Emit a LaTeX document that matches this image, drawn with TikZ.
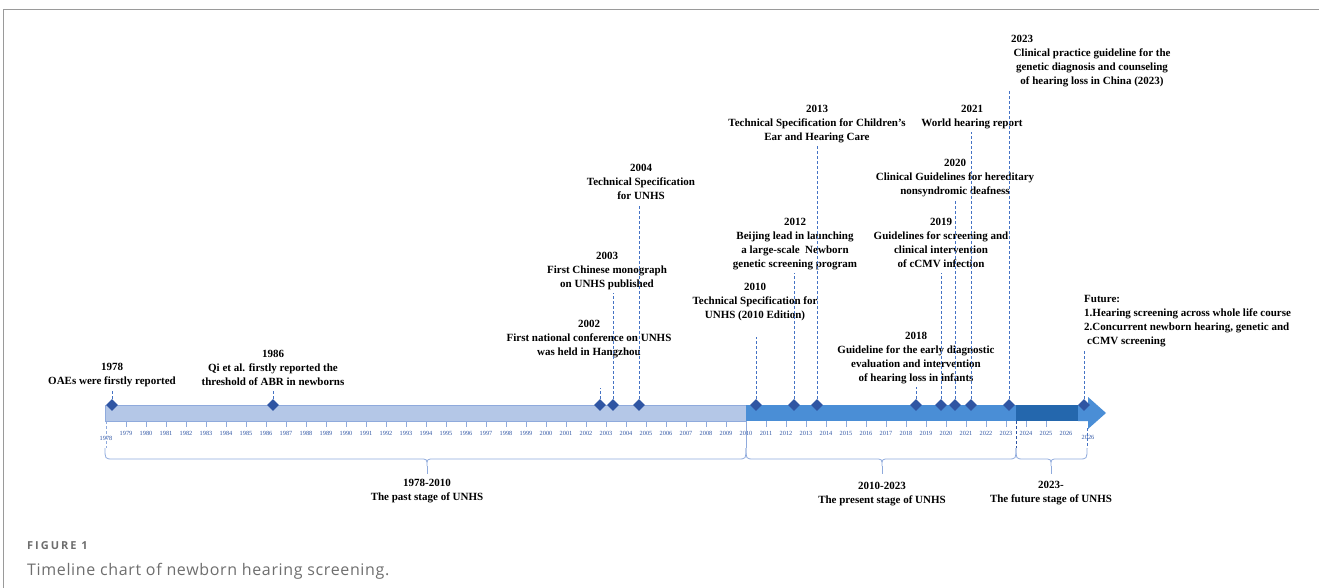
\documentclass[tikz,border=0pt]{standalone}
\usepackage{fontspec}
\setmainfont{Liberation Serif}
\newfontfamily\legende{Open Sans}
\usetikzlibrary{positioning, shapes.geometric}
\definecolor{passe}{HTML}{B4C7E7}
\definecolor{passebord}{HTML}{8FAADC}
\definecolor{present}{HTML}{4A8ED6}
\definecolor{futur}{HTML}{2467AD}
\definecolor{losange}{HTML}{2F55A3}
\definecolor{tiret}{HTML}{4472C4}
\definecolor{gris}{HTML}{6E6E6E}
\tikzset{
    %Define style for the diamonds
    jalon/.style={
           diamond,
           fill=losange,
           inner sep=0pt,
           minimum size=12pt},
    %Define style for event texts
    texte/.style={
           font=\fontsize{11}{14}\selectfont\bfseries,
           align=center,
           inner sep=1pt,
           anchor=south,
           execute at end node=\strut},
    % Define dashed line style
    tige/.style={
           draw=tiret,
           line width=0.6pt,
           dash pattern=on 3pt off 2pt},
    % years under the bar
    annee/.style={
           font=\fontsize{6.3}{7}\selectfont,
           text=losange,
           inner sep=0pt},
    accolade/.style={draw=passebord, line width=0.8pt},
    etape/.style={
           font=\fontsize{11}{14}\selectfont\bfseries,
           align=center,
           inner sep=0pt}
}

\begin{document}
\begin{tikzpicture}[x=1pt, y=-1pt]
	\useasboundingbox (0,0) rectangle (1319,588);
	%
	% cadre
	%
	\draw[gris!70, line width=1pt] (1319,10) -- (3,10) -- (3,588);
	%
	% barre
	%
	\filldraw[fill=passe, draw=passebord, line width=0.6pt] (105,405) rectangle (746,421);
	\fill[present] (746,405) rectangle (1016,421);
	\fill[futur] (1016,405) rectangle (1078,421);
	\fill[present] (1078,405) -- (1088,405) -- (1088,397) -- (1106,413) -- (1088,429) -- (1088,421) -- (1078,421) -- cycle;
	\foreach \i in {1,...,47}
		\draw[passebord, line width=0.5pt] (106+20*\i,421) -- ++(0,6);
	\foreach \yr [count=\i] in {1979,...,2026}
		\node[annee] at (106+20*\i,433) {\yr};
	\node[annee] (a1978) at (106,438) {1978};
	\node[annee] (a2026) at (1088,437) {2026};
	\draw[tige, draw=passebord] (106,421) -- (106,448);
	\draw[passebord, line width=0.6pt] (746,421) -- (746,448);
	\draw[tige, draw=losange, line width=0.8pt] (1016,421) -- (1016,448);
	\draw[tige] (1087,428) -- (1087,448);
	%
	% accolades
	%
	\foreach \a/\m/\b/\n in {105/427/746/passe, 746/882/1016/present, 1016/1051/1087/futur}{
		\draw[accolade] (\a,448) .. controls (\a,459) .. (\a+8,459) -- (\m-7,459) .. controls (\m,459) .. (\m,466)
			.. controls (\m,459) .. (\m+7,459) -- (\b-8,459) .. controls (\b,459) .. (\b,448);
		\draw[accolade] (\m,466) -- (\m,474) coordinate (pointe\n);
	}
	\node[etape, below=5pt of pointepasse] (lpasse) {1978-2010\\The past stage of UNHS};
	\node[etape, below=8pt of pointepresent] (lpresent) {2010-2023\\The present stage of UNHS};
	\node[etape, below=7pt of pointefutur] (lfutur) {2023-\\The future stage of UNHS};
	%
	% noeuds
	%
	\foreach \n/\x in {1978/112, 1986/273, 2002/600, 2003/613, 2004/639, 2010/756, 2012/794,
		2013/817, 2018/916, 2019/941, 2020/955, 2021/971, 2023/1009, fut/1084}
		\node[jalon] (d\n) at (\x,405) {};
	\node[texte] (t1978) at (112,390) {1978\\OAEs were firstly reported};
	\node[texte] (t1986) at (273,391) {1986\\Qi et al. firstly reported the\\threshold of ABR in newborns};
	\node[texte] (t2002) at (589,361) {2002\\First national conference on UNHS\\was held in Hangzhou};
	\node[texte] (t2003) at (607,293) {2003\\First Chinese monograph\\on UNHS published};
	\node[texte] (t2004) at (641,205) {2004\\Technical Specification\\for UNHS};
	\node[texte] (t2010) at (755,324) {2010\\Technical Specification for\\UNHS (2010 Edition)};
	\node[texte] (t2012) at (795,273) {2012\\Beijing lead in launching\\a large-scale\ \ Newborn\\genetic screening program};
	\node[texte] (t2013) at (817,146) {2013\\Technical Specification for Children's\\Ear and Hearing Care};
	\node[texte] (t2018) at (916,387) {2018\\Guideline for the early diagnostic\\evaluation and intervention\\of hearing loss in infants};
	\node[texte] (t2019) at (941,273) {2019\\Guidelines for screening and\\clinical intervention\\of cCMV infection};
	\node[texte] (t2020) at (955,200) {2020\\Clinical Guidelines for hereditary\\nonsyndromic deafness};
	\node[texte] (t2021) at (972,132) {2021\\World hearing report};
	\node[texte] (t2023) at (1092,90) {Clinical practice guideline for the\\genetic diagnosis and counseling\\of hearing loss in China (2023)};
	\node[texte, anchor=base west] (y2023) at (1010,42.6) {2023};
	\node[texte, anchor=south west, align=left] (tfut) at (1083,350) {Future:\\1.Hearing screening across whole life course\\2.Concurrent newborn hearing, genetic and\\\hspace{3pt}cCMV screening};
	%
	% Liens
	%
	\foreach \n in {1978,1986,2003,2004,2012,2013,2018,2019,2020,2021,2023}
		\draw[tige] (d\n.north) -- (d\n |- t\n.south);
	\coordinate (h2002) at (600,388);
	\coordinate (h2010) at (756,337);
	\draw[tige] (d2002.north) -- (h2002);
	\draw[tige] (d2010.north) -- (h2010);
	\draw[tige] (dfut.north) -- (dfut |- tfut.south);
	%
	% legende
	%
	\node[anchor=base west, inner sep=0pt, font=\legende\bfseries\fontsize{11}{13}\selectfont\addfontfeature{LetterSpace=18}, text=gris] (fig) at (27,549) {FIGURE 1};
	\node[anchor=base west, inner sep=0pt, font=\legende\fontsize{16}{18}\selectfont\addfontfeature{LetterSpace=4}, text=gris] (leg) at (27,575) {Timeline chart of newborn hearing screening.};
\end{tikzpicture}
\end{document}
